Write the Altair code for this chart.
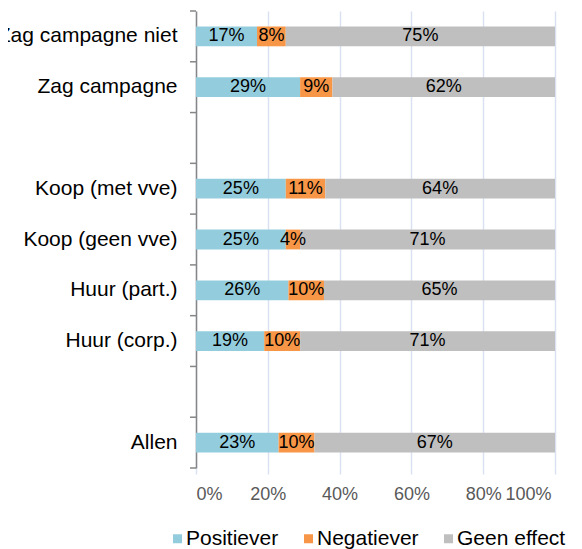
import altair as alt
import pandas as pd

categories = ["Zag campagne niet", "Zag campagne", " ", "Koop (met vve)", "Koop (geen vve)",
              "Huur (part.)", "Huur (corp.)", "  ", "Allen"]
groups = ["Zag campagne niet", "Zag campagne", "Koop (met vve)", "Koop (geen vve)",
          "Huur (part.)", "Huur (corp.)", "Allen"]
positiever = [17, 29, 25, 25, 26, 19, 23]
negatiever = [8, 9, 11, 4, 10, 10, 10]
geen_effect = [75, 62, 64, 71, 65, 71, 67]
series = ["Positiever", "Negatiever", "Geen effect"]
colors = ["#93CDDD", "#F79646", "#BFBFBF"]

rows = []
for i, g in enumerate(groups):
    for j, (s, vals) in enumerate(zip(series, [positiever, negatiever, geen_effect])):
        rows.append({"cat": g, "series": s, "order": j, "value": vals[i]})
df = pd.DataFrame(rows)
tick_df = pd.DataFrame({"cat": categories})
last_df = pd.DataFrame({"cat": categories[-1:]})

FONT = "Liberation Sans"
W, H = 359, 457
STEP = H / len(categories)
yscale = alt.Scale(domain=categories, paddingInner=0.61, paddingOuter=0.305)

base = alt.Chart(df).transform_stack(
    stack="value", groupby=["cat"], as_=["x0", "x1"], offset="normalize",
    sort=[alt.SortField("order", order="ascending")]
).transform_calculate(
    mid="(datum.x0 + datum.x1) / 2",
    label="datum.value + '%'"
)

yenc = alt.Y("cat:N", scale=yscale,
             axis=alt.Axis(title=None, labelFontSize=21, labelColor="#000000", labelFont=FONT,
                           labelLimit=400, domainColor="#868686", domainWidth=1.5,
                           ticks=False, labelPadding=19, grid=False))

bars = base.mark_bar(stroke=None).encode(
    x=alt.X("x0:Q", scale=alt.Scale(domain=[0, 1]),
            axis=alt.Axis(title=None, format="%", values=[0, 0.2, 0.4, 0.6, 0.8, 1.0],
                          grid=True, gridColor="#D9E1F2", gridWidth=1.5, domain=False,
                          tickColor="#D9E1F2", tickWidth=1.5, tickSize=6,
                          labelFontSize=18, labelColor="#595959", labelFont=FONT,
                          labelPadding=11,
                          labelOffset={"condition": {"test": "datum.value == 1", "value": -4},
                                       "value": 0})),
    x2="x1:Q",
    y=yenc,
    color=alt.Color("series:N", scale=alt.Scale(domain=series, range=colors),
                    legend=alt.Legend(title=None, orient="none", direction="horizontal",
                                      legendX=-29, legendY=517, symbolType="square",
                                      symbolSize=81, symbolStrokeWidth=0,
                                      labelFontSize=21, labelFont=FONT, labelColor="#000000",
                                      labelOffset={"expr": "-2"}, columnPadding=19)),
    order=alt.Order("order:Q")
)

texts = base.mark_text(fontSize=18, font=FONT, color="#000000", align="center",
                       baseline="middle").encode(
    x="mid:Q",
    y=alt.Y("cat:N", scale=yscale),
    text="label:N"
)

ticks_top = alt.Chart(tick_df).mark_rule(color="#868686", strokeWidth=1.5,
                                         yOffset=-STEP / 2).encode(
    y=alt.Y("cat:N", scale=yscale),
    x=alt.value(-6), x2=alt.value(0)
)
ticks_bottom = alt.Chart(last_df).mark_rule(color="#868686", strokeWidth=1.5,
                                            yOffset=STEP / 2).encode(
    y=alt.Y("cat:N", scale=yscale),
    x=alt.value(-6), x2=alt.value(0)
)

chart = alt.layer(bars, texts, ticks_top, ticks_bottom).properties(
    width=W, height=H,
    autosize=alt.AutoSizeParams(type="none"),
    padding={"left": 188, "top": 3, "right": 19, "bottom": 81}
).configure_view(stroke=None)

chart.save("out.html", embed_options={"renderer": "svg", "actions": False})
